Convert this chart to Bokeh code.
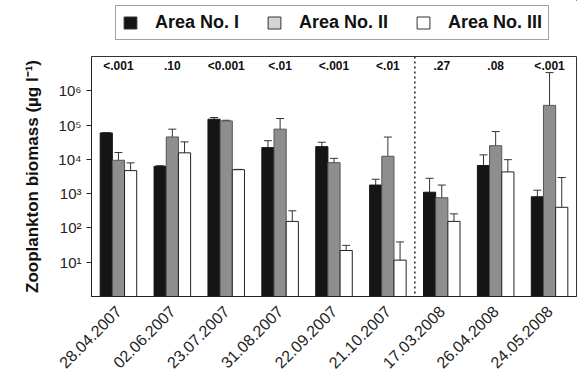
import math
from bokeh.plotting import figure
from bokeh.layouts import column
from bokeh.models import (ColumnDataSource, FactorRange, Whisker, TeeHead, Span,
                          FixedTicker, Legend, LegendItem)
from bokeh.transform import dodge
from bokeh.core.properties import value
from bokeh.embed import file_html
from bokeh.resources import INLINE

dates = ["28.04.2007", "02.06.2007", "23.07.2007", "31.08.2007", "22.09.2007",
         "21.10.2007", "17.03.2008", "26.04.2008", "24.05.2008"]
pvals = ["<.001", ".10", "<0.001", "<.01", "<.001", "<.01", ".27", ".08", "<.001"]

area1 = [59000, 6300, 148000, 22000, 23500, 1780, 1100, 6600, 810]
area1_hi = [59000, 6500, 166000, 35000, 31600, 2630, 2800, 13500, 1260]
area1_lo = [59000, 6100, 132000, 13800, 17500, 1200, 430, 3200, 520]

area2 = [9400, 45000, 132000, 76000, 8000, 12300, 760, 25000, 375000]
area2_hi = [15800, 76000, 138000, 155000, 10700, 44700, 1780, 64600, 3390000]
area2_lo = [5100, 27500, 126000, 36300, 5500, 3470, 330, 10000, 36300]

area3 = [4700, 15500, 5000, 155, 22, 11.5, 155, 4300, 400]
area3_hi = [7900, 32400, 5100, 316, 31, 39, 257, 9800, 2950]
area3_lo = [2340, 7400, 4900, 71, 16, 3.1, 91, 1620, 49]

series_names = ["Area No. I", "Area No. II", "Area No. III"]
ytick_vals = [10, 100, 1000, 10000, 100000, 1000000]
ytick_labels = ["10¹", "10²", "10³", "10⁴", "10⁵", "10⁶"]
pval_level = 5.4e6

FONT = "Liberation Sans"

# ---------------- main chart ----------------
p = figure(width=577, height=326, x_range=FactorRange(*dates), y_axis_type="log",
           y_range=(1, 1e7), output_backend="svg", toolbar_location=None,
           min_border_left=91, min_border_right=1, min_border_top=1, min_border_bottom=85)
p.background_fill_color = "white"
p.border_fill_color = "white"
p.outline_line_color = "#333333"
p.grid.visible = False

width = 0.226
offsets = [-width, 0.0, width]
fills = ["#151515", "#8e8e8e", "#ffffff"]
legend_fills = ["#151515", "#d4d4d4", "#ffffff"]
lines = ["#151515", "#555555", "#222222"]
data_sets = [(area1, area1_hi, area1_lo), (area2, area2_hi, area2_lo), (area3, area3_hi, area3_lo)]

for (vals, hi, lo), off, fc, lc in zip(data_sets, offsets, fills, lines):
    src = ColumnDataSource(dict(date=dates, v=vals, hi=hi, lo=lo))
    p.vbar(x=dodge("date", off, range=p.x_range), top="v", bottom=1, width=width,
           source=src, fill_color=fc, line_color=lc, line_width=1)
    w = Whisker(base=dodge("date", off, range=p.x_range), upper="hi", lower="lo", source=src,
                line_color="#333333", line_width=1,
                upper_head=TeeHead(size=8, line_color="#333333", line_width=1),
                lower_head=TeeHead(size=8, line_color="#333333", line_width=1))
    p.add_layout(w)

# p-values
psrc = ColumnDataSource(dict(date=dates, y=[pval_level] * len(dates), t=pvals))
p.text(x="date", y="y", text="t", source=psrc, text_align="center", text_baseline="middle",
       text_font=value(FONT), text_font_size="12px", text_font_style="bold", text_color="#111111")

# dotted separator between 2007 and 2008
split = sum(1 for d in dates if d.endswith("2007"))
p.add_layout(Span(location=split, dimension="height", line_color="#222222",
                  line_dash="2 3", line_width=1.5))

# axes
ya = p.yaxis[0]
ya.ticker = FixedTicker(ticks=ytick_vals, minor_ticks=[])
ya.major_label_overrides = {v: t for v, t in zip(ytick_vals, ytick_labels)}
ya.major_label_text_font = FONT
ya.major_label_text_font_size = "15px"
ya.major_label_text_color = "#222222"
ya.major_tick_out = 5
ya.major_tick_in = 0
ya.minor_tick_out = 0
ya.minor_tick_in = 0
ya.axis_line_color = "#222222"
ya.major_tick_line_color = "#222222"
ya.axis_label = "Zooplankton biomass (µg l⁻¹)"
ya.axis_label_text_font = FONT
ya.axis_label_text_font_size = "17px"
ya.axis_label_text_font_style = "bold"
ya.axis_label_text_color = "#111111"
ya.axis_label_standoff = 13
ya.major_label_standoff = 5

xa = p.xaxis[0]
xa.major_label_orientation = math.pi / 4
xa.major_label_text_font = FONT
xa.major_label_text_font_size = "16px"
xa.major_label_text_color = "#222222"
xa.major_tick_line_color = None
xa.minor_tick_line_color = None
xa.axis_line_color = "#222222"
xa.major_label_standoff = 6

# ---------------- legend strip ----------------
lp = figure(width=577, height=55, x_range=(0, 1), y_range=(0, 1), output_backend="svg",
            toolbar_location=None, min_border=0)
lp.axis.visible = False
lp.grid.visible = False
lp.outline_line_color = None
lp.background_fill_color = "white"
lp.border_fill_color = "white"

items = []
for name, fc in zip(series_names, legend_fills):
    dsrc = ColumnDataSource(dict(x=[5], top=[6], bottom=[5.5]))
    r = lp.vbar(x="x", top="top", bottom="bottom", width=0.1, source=dsrc,
                fill_color=fc, line_color="#333333", line_width=1)
    items.append(LegendItem(label=name, renderers=[r]))
legend = Legend(items=items, orientation="horizontal", location=(24, 15),
                label_text_font=FONT, label_text_font_size="18px", label_text_font_style="bold",
                label_text_color="#111111", glyph_width=16, glyph_height=15, label_height=15,
                label_standoff=17, spacing=27, padding=6, margin=0,
                border_line_color="#444444", border_line_width=1,
                background_fill_color="white", background_fill_alpha=1.0)
lp.add_layout(legend, "center")

layout = column(lp, p, spacing=0)
open("out.html", "w").write(file_html(layout, INLINE))
